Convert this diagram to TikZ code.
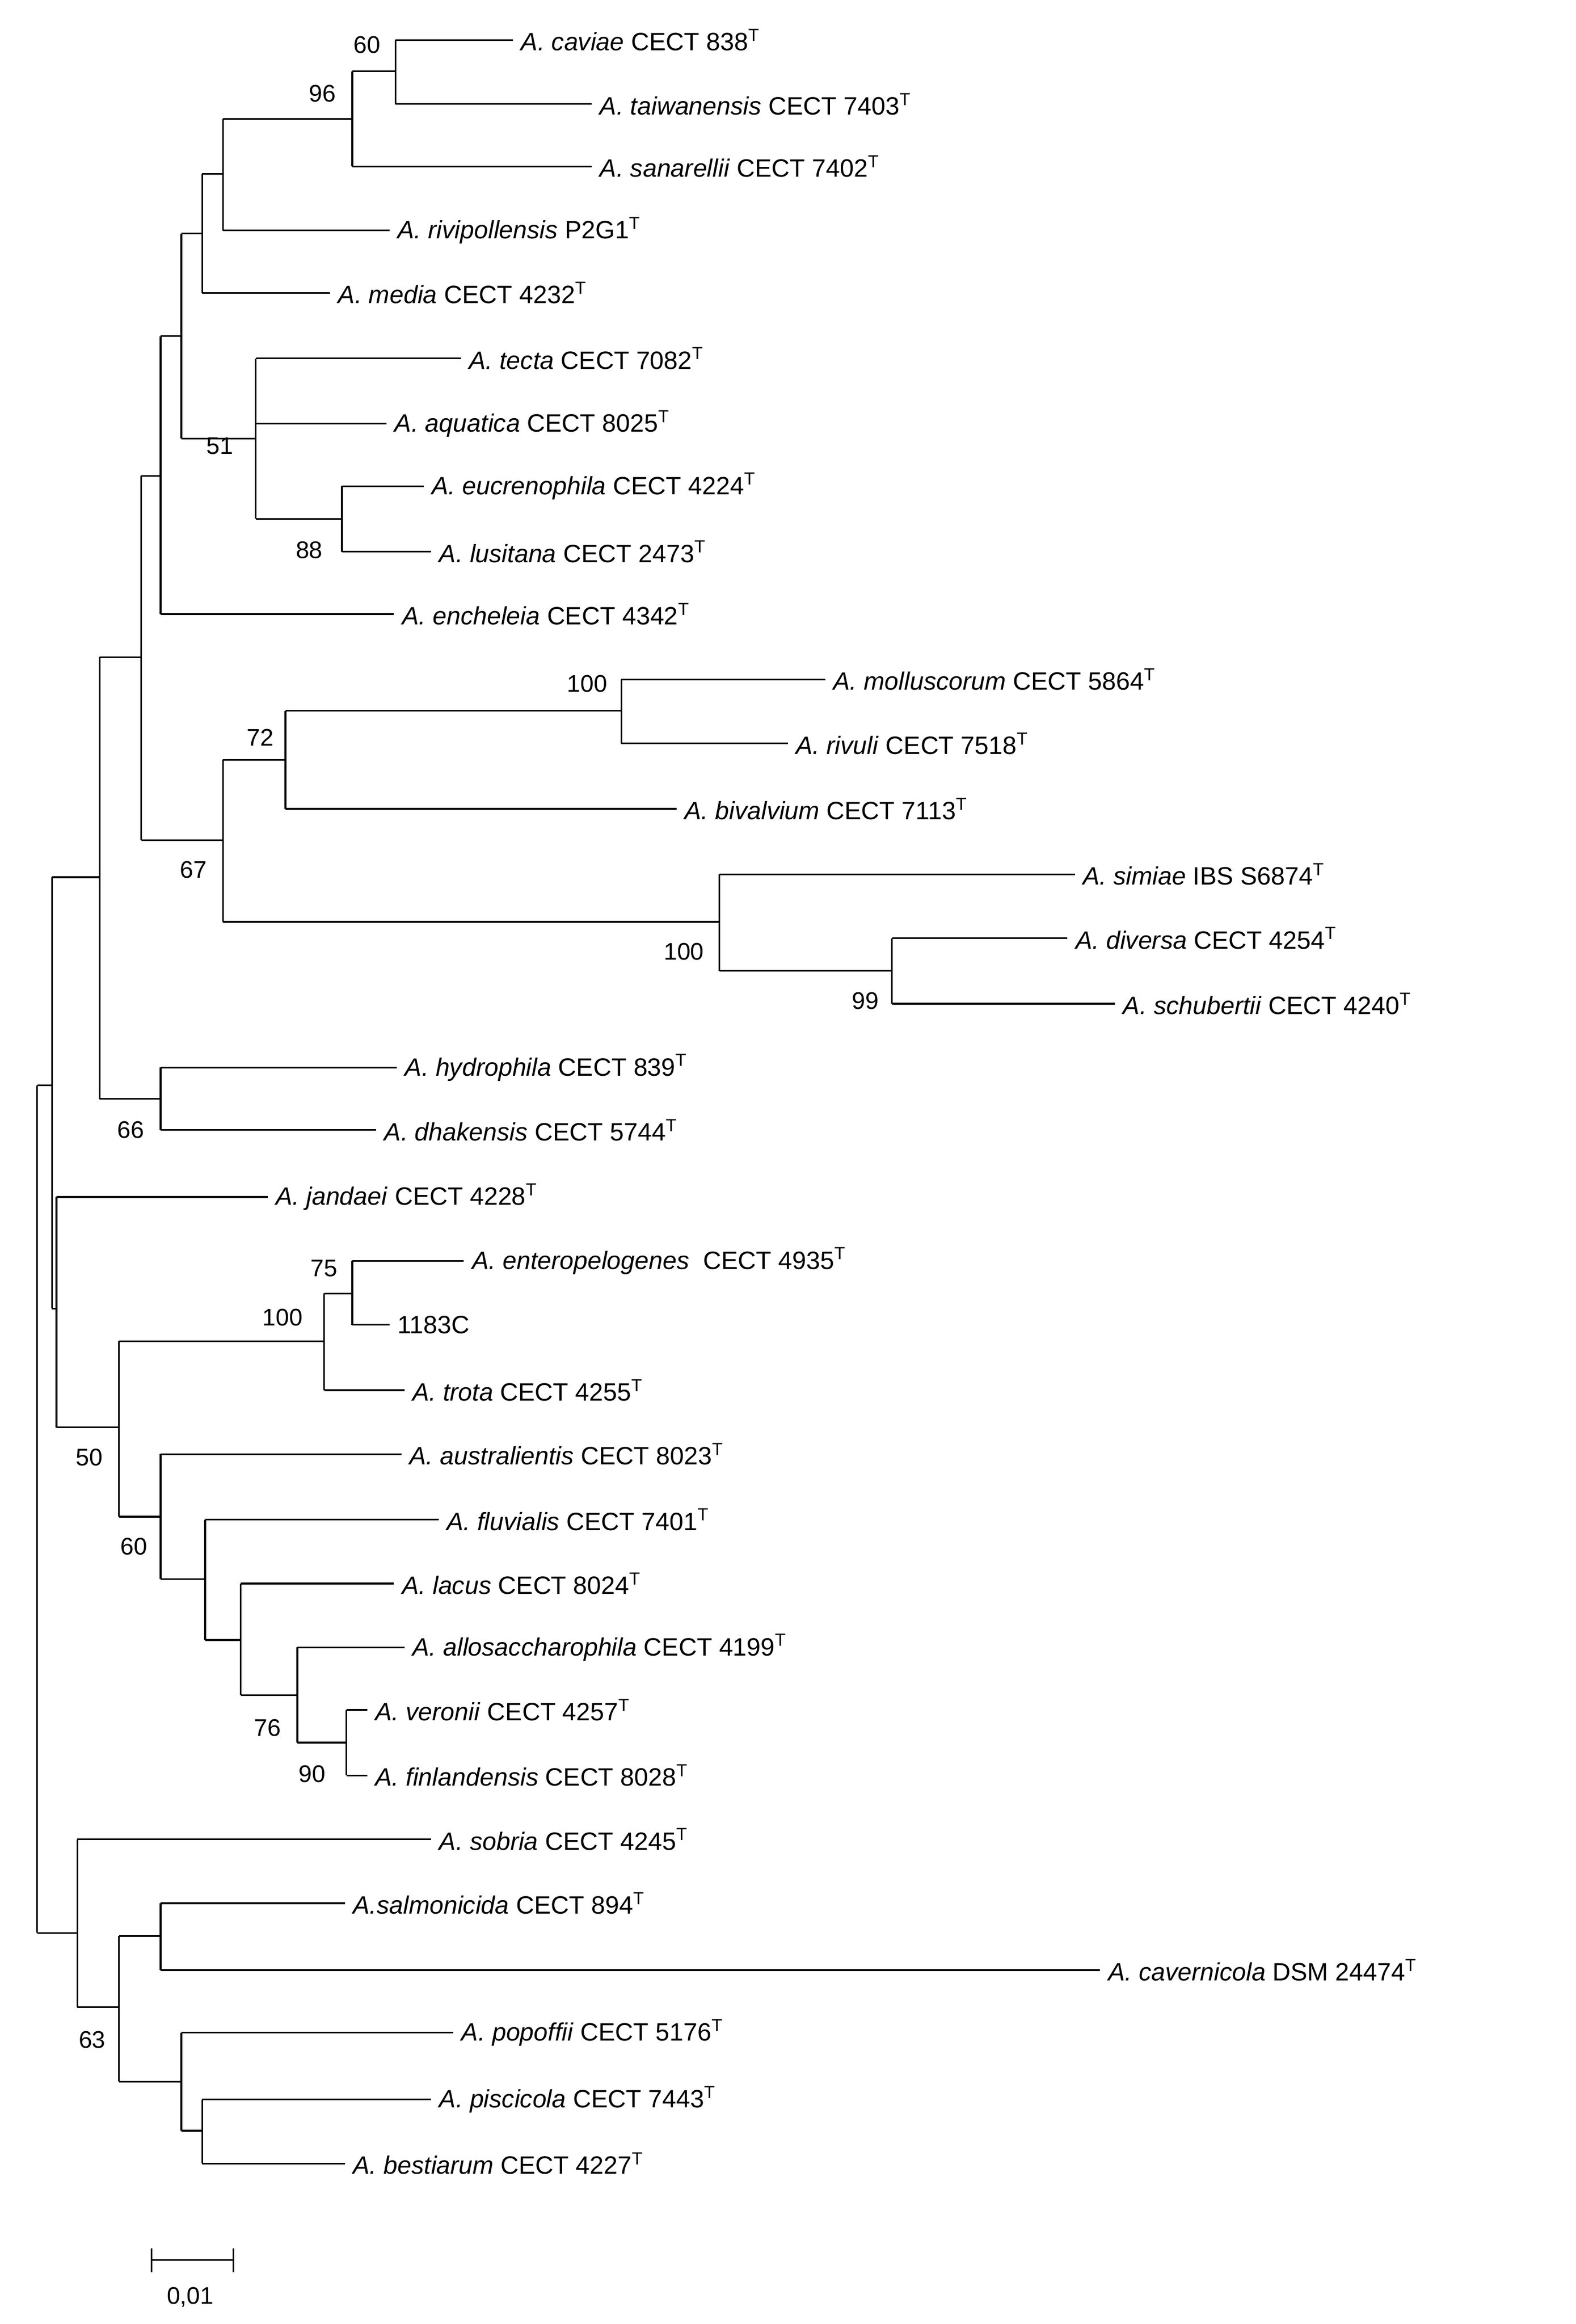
\documentclass[tikz,border=0pt]{standalone}
\usepackage{fontspec}
\setmainfont{Liberation Sans}
\begin{document}
\begin{tikzpicture}[x=0.05cm,y=-0.05cm,line width=1.6pt,
 leaf/.style={anchor=west,inner sep=0pt,xshift=7pt,font=\fontsize{24}{27}\selectfont},
 bs/.style={font=\fontsize{23}{26}\selectfont,inner sep=0pt}]
\useasboundingbox (0,0) rectangle (1060,1563);
\newcommand{\lf}[5]{\draw (#2,#4) -- (#3,#4); \node[leaf] (#1) at (#3,#4) {#5};}
\newcommand{\spn}[1]{\textit{#1}}
% top clade
\lf{a1}{266}{345}{27}{\spn{A. caviae} CECT 838\textsuperscript{T}}
\lf{a2}{266}{398}{70}{\spn{A. taiwanensis} CECT 7403\textsuperscript{T}}
\draw (266,27)--(266,70); \draw (237,48)--(266,48);
\lf{a3}{237}{398}{112}{\spn{A. sanarellii} CECT 7402\textsuperscript{T}}
\draw (237,48)--(237,112); \draw (150,80)--(237,80);
\lf{a4}{150}{262}{155}{\spn{A. rivipollensis} P2G1\textsuperscript{T}}
\draw (150,80)--(150,155); \draw (136,117)--(150,117);
\lf{a5}{136}{222}{197}{\spn{A. media} CECT 4232\textsuperscript{T}}
\draw (136,117)--(136,197); \draw (122,157)--(136,157);
\lf{a6}{172}{310}{241}{\spn{A. tecta} CECT 7082\textsuperscript{T}}
\lf{a7}{172}{260}{285}{\spn{A. aquatica} CECT 8025\textsuperscript{T}}
\lf{a8}{230}{285}{327}{\spn{A. eucrenophila} CECT 4224\textsuperscript{T}}
\lf{a9}{230}{290}{371}{\spn{A. lusitana} CECT 2473\textsuperscript{T}}
\draw (230,327)--(230,371); \draw (172,349)--(230,349);
\draw (172,241)--(172,349); \draw (122,295)--(172,295);
\draw (122,157)--(122,295); \draw (108,226)--(122,226);
\lf{a10}{108}{265}{413}{\spn{A. encheleia} CECT 4342\textsuperscript{T}}
\draw (108,226)--(108,413); \draw (95,320)--(108,320);
\lf{b1}{418}{555}{457}{\spn{A. molluscorum} CECT 5864\textsuperscript{T}}
\lf{b2}{418}{530}{500}{\spn{A. rivuli} CECT 7518\textsuperscript{T}}
\draw (418,457)--(418,500); \draw (192,478)--(418,478);
\lf{b3}{192}{455}{544}{\spn{A. bivalvium} CECT 7113\textsuperscript{T}}
\draw (192,478)--(192,544); \draw (150,511)--(192,511);
\lf{b4}{484}{723}{588}{\spn{A. simiae} IBS S6874\textsuperscript{T}}
\lf{b5}{600}{718}{631}{\spn{A. diversa} CECT 4254\textsuperscript{T}}
\lf{b6}{600}{750}{675}{\spn{A. schubertii} CECT 4240\textsuperscript{T}}
\draw (600,631)--(600,675); \draw (484,653)--(600,653);
\draw (484,588)--(484,653); \draw (150,620)--(484,620);
\draw (150,511)--(150,620); \draw (95,565)--(150,565);
\draw (95,320)--(95,565); \draw (67,442)--(95,442);
\lf{c1}{108}{267}{718}{\spn{A. hydrophila} CECT 839\textsuperscript{T}}
\lf{c2}{108}{253}{760}{\spn{A. dhakensis} CECT 5744\textsuperscript{T}}
\draw (108,718)--(108,760); \draw (67,739)--(108,739);
\draw (67,442)--(67,739); \draw (35,590)--(67,590);
% middle clade
\lf{d1}{38}{180}{805}{\spn{A. jandaei} CECT 4228\textsuperscript{T}}
\lf{d2}{237}{312}{848}{\spn{A. enteropelogenes}\ \ CECT 4935\textsuperscript{T}}
\lf{d3}{237}{262}{891}{1183C}
\draw (237,848)--(237,891); \draw (218,870)--(237,870);
\lf{d4}{218}{272}{935}{\spn{A. trota} CECT 4255\textsuperscript{T}}
\draw (218,870)--(218,935); \draw (80,902)--(218,902);
\lf{d5}{108}{270}{978}{\spn{A. australientis} CECT 8023\textsuperscript{T}}
\lf{d6}{138}{295}{1022}{\spn{A. fluvialis} CECT 7401\textsuperscript{T}}
\lf{d7}{162}{265}{1065}{\spn{A. lacus} CECT 8024\textsuperscript{T}}
\lf{d8}{200}{272}{1108}{\spn{A. allosaccharophila} CECT 4199\textsuperscript{T}}
\lf{d9}{233}{247}{1150}{\spn{A. veronii} CECT 4257\textsuperscript{T}}
\lf{d10}{233}{247}{1194}{\spn{A. finlandensis} CECT 8028\textsuperscript{T}}
\draw (233,1150)--(233,1194); \draw (200,1172)--(233,1172);
\draw (200,1108)--(200,1172); \draw (162,1140)--(200,1140);
\draw (162,1065)--(162,1140); \draw (138,1103)--(162,1103);
\draw (138,1022)--(138,1103); \draw (108,1062)--(138,1062);
\draw (108,978)--(108,1062); \draw (80,1020)--(108,1020);
\draw (80,902)--(80,1020); \draw (38,960)--(80,960);
\draw (38,805)--(38,960);
\draw (35,590)--(35,880); \draw (35,880)--(38,880);
\draw (25,730)--(35,730);
% bottom clade
\lf{e1}{52}{290}{1237}{\spn{A. sobria} CECT 4245\textsuperscript{T}}
\lf{e2}{108}{232}{1280}{\spn{A.salmonicida} CECT 894\textsuperscript{T}}
\lf{e3}{108}{740}{1325}{\spn{A. cavernicola} DSM 24474\textsuperscript{T}}
\draw (108,1280)--(108,1325); \draw (80,1302)--(108,1302);
\lf{e4}{122}{305}{1367}{\spn{A. popoffii} CECT 5176\textsuperscript{T}}
\lf{e5}{136}{290}{1412}{\spn{A. piscicola} CECT 7443\textsuperscript{T}}
\lf{e6}{136}{232}{1455}{\spn{A. bestiarum} CECT 4227\textsuperscript{T}}
\draw (136,1412)--(136,1455); \draw (122,1433)--(136,1433);
\draw (122,1367)--(122,1433); \draw (80,1400)--(122,1400);
\draw (80,1302)--(80,1400); \draw (52,1350)--(80,1350);
\draw (52,1237)--(52,1350); \draw (25,1300)--(52,1300);
\draw (25,730)--(25,1300);
% bootstrap
\foreach \t/\x/\y in {60/247/30,96/217/63,51/148/300,88/208/370,100/395/460,72/175/496,67/130/585,100/460/640,99/582/673,66/88/760,75/218/853,100/190/886,50/60/980,60/90/1040,76/180/1162,90/210/1193,63/62/1372}
  \node[bs] at (\x,\y) {\t};
% scale bar
\draw (102,1520)--(157,1520); \draw (102,1512)--(102,1528); \draw (157,1512)--(157,1528);
\node[bs] (sc) at (128,1545) {0,01};
\end{tikzpicture}
\end{document}
